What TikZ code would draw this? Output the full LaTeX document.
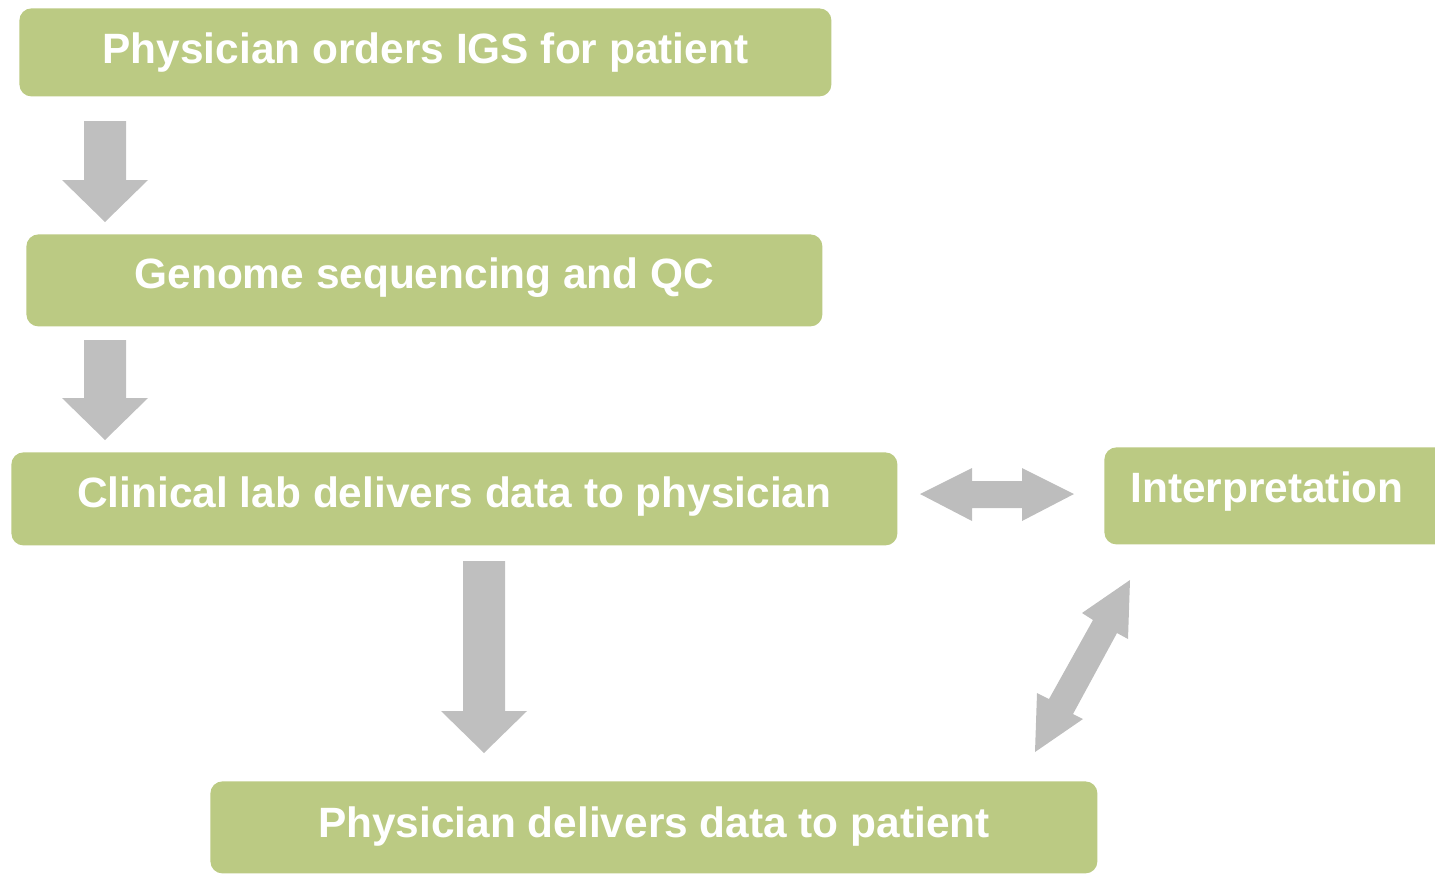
\documentclass[tikz,border=0pt]{standalone}
\usepackage{fontspec}
\setmainfont{Liberation Sans}
\begin{document}
\begin{tikzpicture}[x=0.5pt,y=-0.5pt]
\definecolor{boxgreen}{HTML}{BBCA83}
\definecolor{arrowgray}{HTML}{BFBFBF}
\definecolor{linkgray}{HTML}{BDBDBD}
\tikzset{
  stepbox/.style={fill=boxgreen, draw=none, rounded corners=6pt, inner xsep=0pt,
    inner ysep=0pt, anchor=north west, text=white,
    font=\fontsize{21.2}{25}\selectfont\bfseries},
  downarrow/.style={fill=arrowgray, draw=none},
  linkarrow/.style={fill=linkgray, draw=none}
}
\useasboundingbox (0,0) rectangle (1435,873);
\clip (0,0) rectangle (1435,873);

% process steps
\node[stepbox, minimum width=406pt, text height=27.5pt, text depth=16.5pt]
  (order) at (19,8) {Physician orders IGS for patient};
\node[stepbox, minimum width=398pt, text height=27pt, text depth=19pt]
  (seq) at (26,234) {Genome sequencing and QC};
\node[stepbox, minimum width=443pt, text height=27.5pt, text depth=19pt]
  (lab) at (11,452) {Clinical lab delivers data to physician};
\node[stepbox, inner xsep=13pt, text width=147pt, align=left,
  text height=27.5pt, text depth=21pt]
  (interp) at (1104,447) {Interpretation};
\node[stepbox, minimum width=443.5pt, text height=28pt, text depth=18pt]
  (deliver) at (210,781) {Physician delivers data to patient};

% block arrows between steps
\fill[downarrow] (84,121) -- (126,121) -- (126,180) -- (148,180) -- (105,222)
  -- (62,180) -- (84,180) -- cycle;
\fill[downarrow] (84,340) -- (126,340) -- (126,398) -- (148,398) -- (105,440)
  -- (62,398) -- (84,398) -- cycle;
\fill[downarrow] (463,561) -- (505,561) -- (505,711) -- (527,711) -- (484,753)
  -- (441,711) -- (463,711) -- cycle;

% two-way links with the interpretation step
\fill[linkarrow] (920,494) -- (972,468) -- (972,481) -- (1022,481) -- (1022,468)
  -- (1074,494) -- (1022,521) -- (1022,508) -- (972,508) -- (972,521) -- cycle;
\fill[linkarrow] (1130,580) -- (1128,639) -- (1117,633) -- (1073,714) -- (1083,719)
  -- (1035,752) -- (1037,693) -- (1049,699) -- (1093,620) -- (1082,613) -- cycle;
\end{tikzpicture}
\end{document}
